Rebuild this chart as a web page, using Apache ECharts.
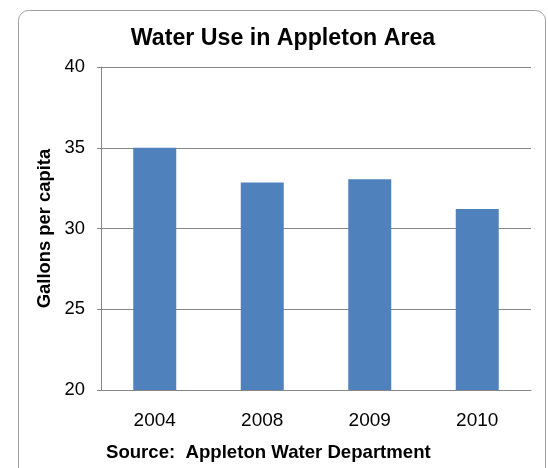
<!DOCTYPE html>
<html>
<head>
<meta charset="utf-8">
<script src="https://cdn.jsdelivr.net/npm/echarts@6/dist/echarts.min.js"></script>
<style>
  html, body { margin: 0; padding: 0; background: #ffffff; }
  #chart { width: 548px; height: 468px; }
</style>
</head>
<body>
<div id="chart"></div>
<script>
  // data
  var years = ['2004', '2008', '2009', '2010']
  var gallons = [35.0, 32.85, 33.05, 31.2]
  var yTicks = { min: 20, max: 40, step: 5 }

  var font = '"Liberation Sans", Arial, sans-serif'
  var gridColor = '#868686'

  var chart = echarts.init(document.getElementById('chart'))
  var options = {
    animation: false,
    backgroundColor: '#ffffff',
    title: {
      text: 'Water Use in Appleton Area',
      left: 278,
      top: 22,
      textAlign: 'center',
      textStyle: {
        fontFamily: font,
        fontSize: 23.2,
        fontWeight: 'bold',
        color: '#000000'
      }
    },
    grid: {
      left: 101,
      right: 17,
      top: 67,
      bottom: 78
    },
    xAxis: {
      type: 'category',
      data: years,
      axisLine: { show: true, lineStyle: { color: gridColor, width: 1 } },
      axisTick: { show: false },
      axisLabel: {
        margin: 21,
        fontFamily: font,
        fontSize: 19,
        color: '#000000'
      }
    },
    yAxis: {
      type: 'value',
      min: yTicks.min,
      max: yTicks.max,
      interval: yTicks.step,
      name: 'Gallons per capita',
      nameLocation: 'middle',
      nameRotate: 90,
      nameGap: 47,
      nameTextStyle: {
        fontFamily: font,
        fontSize: 18.4,
        fontWeight: 'bold',
        color: '#000000'
      },
      axisLine: { show: true, lineStyle: { color: gridColor, width: 1 } },
      axisTick: { show: true, length: 4, lineStyle: { color: gridColor } },
      axisLabel: {
        margin: 16,
        fontFamily: font,
        fontSize: 18.4,
        color: '#000000'
      },
      // 网格线
      splitLine: { show: true, lineStyle: { color: gridColor, width: 1 } }
    },
    series: [
      {
        type: 'bar',
        data: gallons,
        barWidth: '40%',
        itemStyle: { color: '#4f81bd' }
      }
    ],
    graphic: [
      {
        type: 'rect',
        shape: { x: 18.5, y: 10.5, width: 527, height: 480, r: 10 },
        style: { fill: 'none', stroke: '#a0a0a0', lineWidth: 1 },
        silent: true
      },
      {
        type: 'text',
        left: 106,
        top: 443,
        style: {
          text: 'Source:  Appleton Water Department',
          fontFamily: font,
          fontSize: 18.6,
          fontWeight: 'bold',
          fill: '#000000'
        }
      }
    ]
  }
  chart.setOption(options)
</script>
</body>
</html>
